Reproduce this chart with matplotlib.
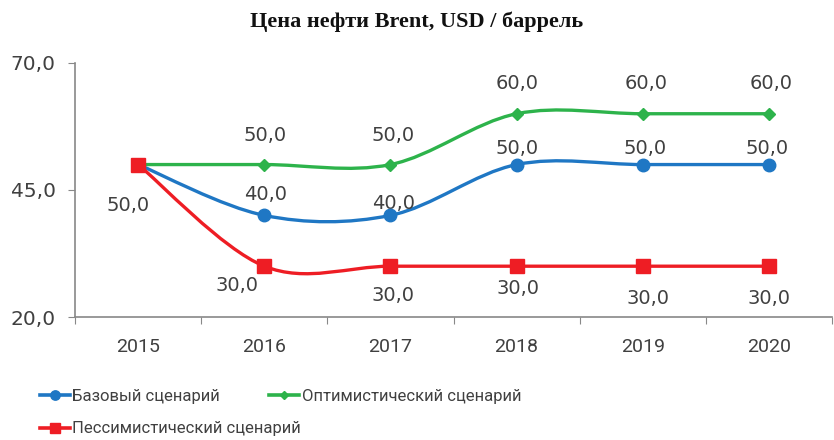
import matplotlib.pyplot as plt
from matplotlib.path import Path
from matplotlib.patches import PathPatch
from matplotlib.lines import Line2D

years = [2015, 2016, 2017, 2018, 2019, 2020]
base = [50.0, 40.0, 40.0, 50.0, 50.0, 50.0]
optimistic = [50.0, 50.0, 50.0, 60.0, 60.0, 60.0]
pessimistic = [50.0, 30.0, 30.0, 30.0, 30.0, 30.0]
y_ticks = [20.0, 45.0, 70.0]

title = "Цена нефти Brent, USD / баррель"
names = ["Базовый сценарий", "Оптимистический сценарий", "Пессимистический сценарий"]

blue = "#1f77c4"
green = "#2db34b"
red = "#ee1d24"
txt = "#404040"
narrow = "Roboto"


def smooth_path(xs, ys):
    # excel-like smoothed line: cubic bezier between points
    pts = list(zip(xs, ys))
    verts = [pts[0]]
    codes = [Path.MOVETO]
    n = len(pts)
    for i in range(n - 1):
        p0 = pts[i - 1] if i > 0 else pts[i]
        p1 = pts[i]
        p2 = pts[i + 1]
        p3 = pts[i + 2] if i + 2 < n else pts[i + 1]
        c1 = (p1[0] + (p2[0] - p0[0]) / 6, p1[1] + (p2[1] - p0[1]) / 6)
        c2 = (p2[0] - (p3[0] - p1[0]) / 6, p2[1] - (p3[1] - p1[1]) / 6)
        verts += [c1, c2, p2]
        codes += [Path.CURVE4] * 3
    return Path(verts, codes)


fig = plt.figure(figsize=(8.34, 4.4), dpi=100)
ax = fig.add_axes([0.09, 0.2795, 0.9076, 0.5775])

xi = list(range(len(years)))
series = [
    (base, blue, "o", 9),
    (optimistic, green, "D", 6),
    (pessimistic, red, "s", 10),
]
handles = []
for (vals, col, mk, ms), name in zip(series, names):
    ax.add_patch(PathPatch(smooth_path(xi, vals), fill=False, edgecolor=col,
                           lw=2.4, capstyle="round", zorder=3))
    ax.plot(xi, vals, ls="none", marker=mk, ms=ms, color=col, zorder=4)
    handles.append(Line2D([], [], color=col, lw=2.6, marker=mk, ms=ms * 0.75))

# data labels (offsets in pixels)
lab_font = dict(fontsize=14, color=txt, ha="center", va="center")
base_off = [None, (1, 21), (3, 12), (0, 16), (2, 16), (-2, 16)]
opt_off = [None, (1, 29), (3, 29), (1, 30), (3, 30), (2, 30)]
pes_off = [(-10, -41), (-27, -19), (3, -29), (1, -22), (5, -32), (0, -32)]
for vals, offs in [(base, base_off), (optimistic, opt_off), (pessimistic, pes_off)]:
    for i, v in enumerate(vals):
        if offs[i] is None:
            continue
        ax.annotate(f"{v:.1f}".replace(".", ","), (i, v), xytext=offs[i],
                    textcoords="offset pixels", **lab_font)

ax.set_xlim(-0.5, len(years) - 0.5)
ax.set_ylim(20, 70)
ax.set_yticks(y_ticks)
ax.set_yticklabels([f"{t:.1f}".replace(".", ",") for t in y_ticks])
ax.set_xticks([i - 0.5 for i in range(len(years) + 1)])
ax.set_xticklabels([])
ax.set_xticks(xi, minor=True)
ax.set_xticklabels([str(y) for y in years], minor=True, fontsize=14,
                   family=narrow, color=txt)
ax.tick_params(axis="x", which="minor", length=0, pad=15)
ax.tick_params(axis="x", which="major", length=5, color="#888888", direction="out")
ax.tick_params(axis="y", length=5, color="#888888", labelsize=14.5, labelcolor=txt, pad=9)

for s in ["top", "right"]:
    ax.spines[s].set_visible(False)
for s in ["left", "bottom"]:
    ax.spines[s].set_color("#888888")
    ax.spines[s].set_linewidth(1.2)

fig.text(0.5, 0.95, title, ha="center", va="center", fontsize=16,
         fontweight="bold", family="Liberation Serif", color="#111111")

leg_kw = dict(loc="upper left", frameon=False, borderpad=0, borderaxespad=0,
              handlelength=1.8, handletextpad=0.15, labelspacing=1.05,
              prop=dict(size=12, family=narrow))
leg1 = fig.legend([handles[0], handles[2]], [names[0], names[2]],
                  bbox_to_anchor=(40 / 834, 1 - 389 / 440), **leg_kw)
leg2 = fig.legend([handles[1]], [names[1]],
                  bbox_to_anchor=(269 / 834, 1 - 389 / 440), **leg_kw)
for lg in (leg1, leg2):
    for t in lg.get_texts():
        t.set_color(txt)

fig.savefig("out.png", dpi=100)
